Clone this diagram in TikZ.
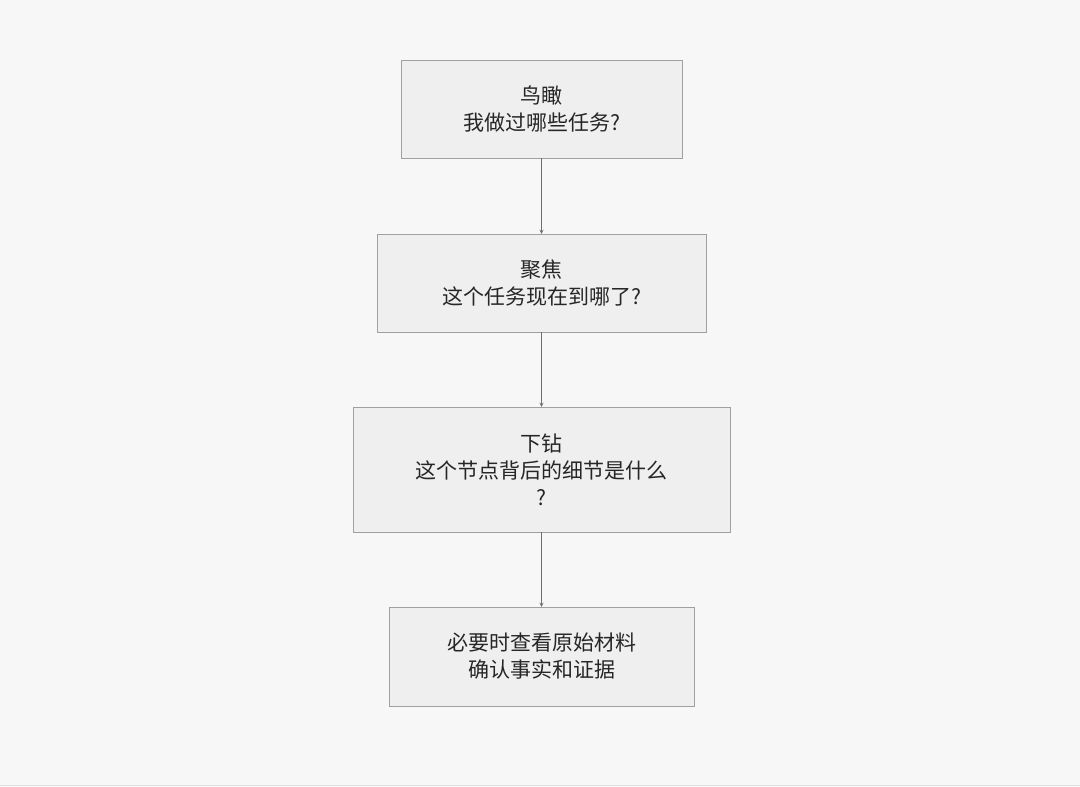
\documentclass[tikz,border=0pt]{standalone}
\usepackage{fontspec}
\setmainfont{Noto Sans CJK SC}
\usetikzlibrary{arrows,positioning}
\definecolor{pagegray}{RGB}{247,247,247}
\definecolor{boxfill}{RGB}{239,239,239}
\definecolor{boxborder}{RGB}{160,160,160}
\definecolor{arrowgray}{RGB}{110,110,110}

\begin{document}
\begin{tikzpicture}[x=1pt, y=-1pt,
    stage/.style={draw=boxborder, fill=boxfill, align=center, inner sep=0pt,
                 font=\fontsize{21}{27}\selectfont, text=black!85},
    arrow/.style={thick, ->, >=stealth, arrowgray}
]

% page background
\fill[pagegray] (0,0) rectangle (1080,787);
\useasboundingbox (0,0) rectangle (1080,787);
\draw[black!12] (0,785) -- (1080,785);

% stages
\node[stage, minimum width=281, minimum height=98] (overview) at (541.5,109) {鸟瞰\\我做过哪些任务?};
\node[stage, minimum width=329, minimum height=98] (focus) at (541.5,283) {聚焦\\这个任务现在到哪了?};
\node[stage, minimum width=377, minimum height=125] (drill) at (541.5,469.5) {下钻\\这个节点背后的细节是什么\\?};
\node[stage, minimum width=305, minimum height=99] (source) at (541.5,656.5) {必要时查看原始材料\\确认事实和证据};

% connect
\draw[arrow] (overview) -- (focus);
\draw[arrow] (focus) -- (drill);
\draw[arrow] (drill) -- (source);

\end{tikzpicture}
\end{document}
